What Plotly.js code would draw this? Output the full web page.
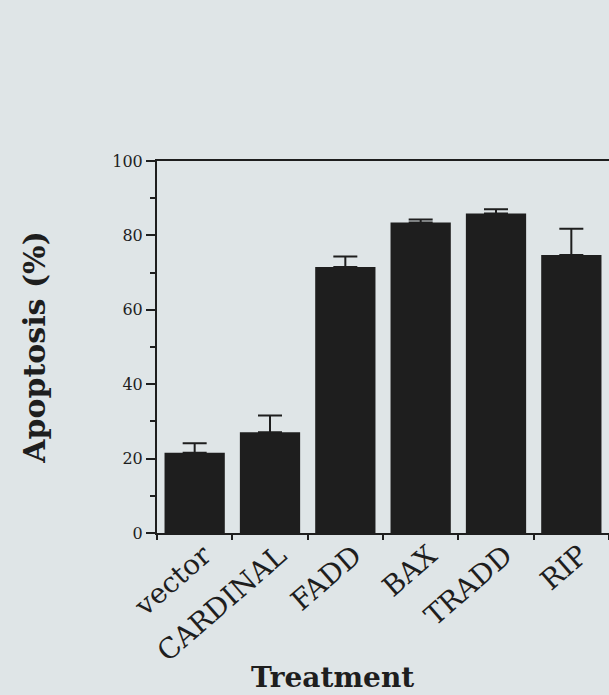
<!DOCTYPE html>
<html>
<head>
<meta charset="utf-8">
<script src="https://cdn.plot.ly/plotly-3.0.1.min.js"></script>
<style>html,body{margin:0;padding:0;background:#dfe5e7;}</style>
</head>
<body>
<div id="chart" style="width:609px;height:695px;"></div>
<script>
const categories = ["vector", "CARDINAL", "FADD", "BAX", "TRADD", "RIP"];
const apoptosis = [21.6, 27.1, 71.5, 83.5, 85.9, 74.7];
const errorUp = [2.5, 4.5, 2.8, 0.8, 1.1, 7.1];
const yTickVals = [0, 20, 40, 60, 80, 100];

const trace = {
  type: "bar",
  x: categories,
  y: apoptosis,
  marker: {color: "#1e1e1e", line: {width: 0}},
  width: 0.8,
  error_y: {type: "data", symmetric: false, array: errorUp, arrayminus: errorUp.map(() => 0),
            color: "#1e1e1e", thickness: 2, width: 12},
  hoverinfo: "skip"
};

const layout = {
  width: 609, height: 695,
  margin: {l: 157, r: 0, t: 161, b: 162},
  paper_bgcolor: "#dfe5e7",
  plot_bgcolor: "#dfe5e7",
  showlegend: false,
  bargap: 0.2,
  xaxis: {
    range: [-0.5, 5.5],
    showline: true, linecolor: "#1e1e1e", linewidth: 2, mirror: true,
    ticks: "outside", tickson: "boundaries", ticklen: 5, tickwidth: 2, tickcolor: "#1e1e1e",
    tickangle: -41,
    ticklabelshift: 9,
    ticklabelstandoff: -7,
    tickfont: {family: "DejaVu Serif", size: 28, color: "#1e1e1e"},
    showgrid: false, zeroline: false,
    automargin: false
  },
  yaxis: {
    range: [0, 100],
    tickvals: yTickVals,
    showline: true, linecolor: "#1e1e1e", linewidth: 2,
    ticks: "outside", ticklen: 9, tickwidth: 2, tickcolor: "#1e1e1e",
    minor: {dtick: 10, ticks: "outside", ticklen: 5, tickwidth: 2, tickcolor: "#1e1e1e", showgrid: false},
    tickfont: {family: "DejaVu Serif", size: 16, color: "#1e1e1e"},
    showgrid: false, zeroline: false,
    title: {text: "Apoptosis (%)", font: {family: "DejaVu Serif", size: 30, color: "#1e1e1e", weight: "bold"}, standoff: 58},
    automargin: false
  },
  annotations: [{
    text: "<b>Treatment</b>", xref: "paper", yref: "paper", x: (332 - 157) / 452, y: (695 - 162 - 677) / 372,
    xanchor: "center", yanchor: "middle", showarrow: false,
    font: {family: "DejaVu Serif", size: 28, color: "#1e1e1e"}
  }]
};

Plotly.newPlot("chart", [trace], layout, {displayModeBar: false, staticPlot: true});
</script>
</body>
</html>
